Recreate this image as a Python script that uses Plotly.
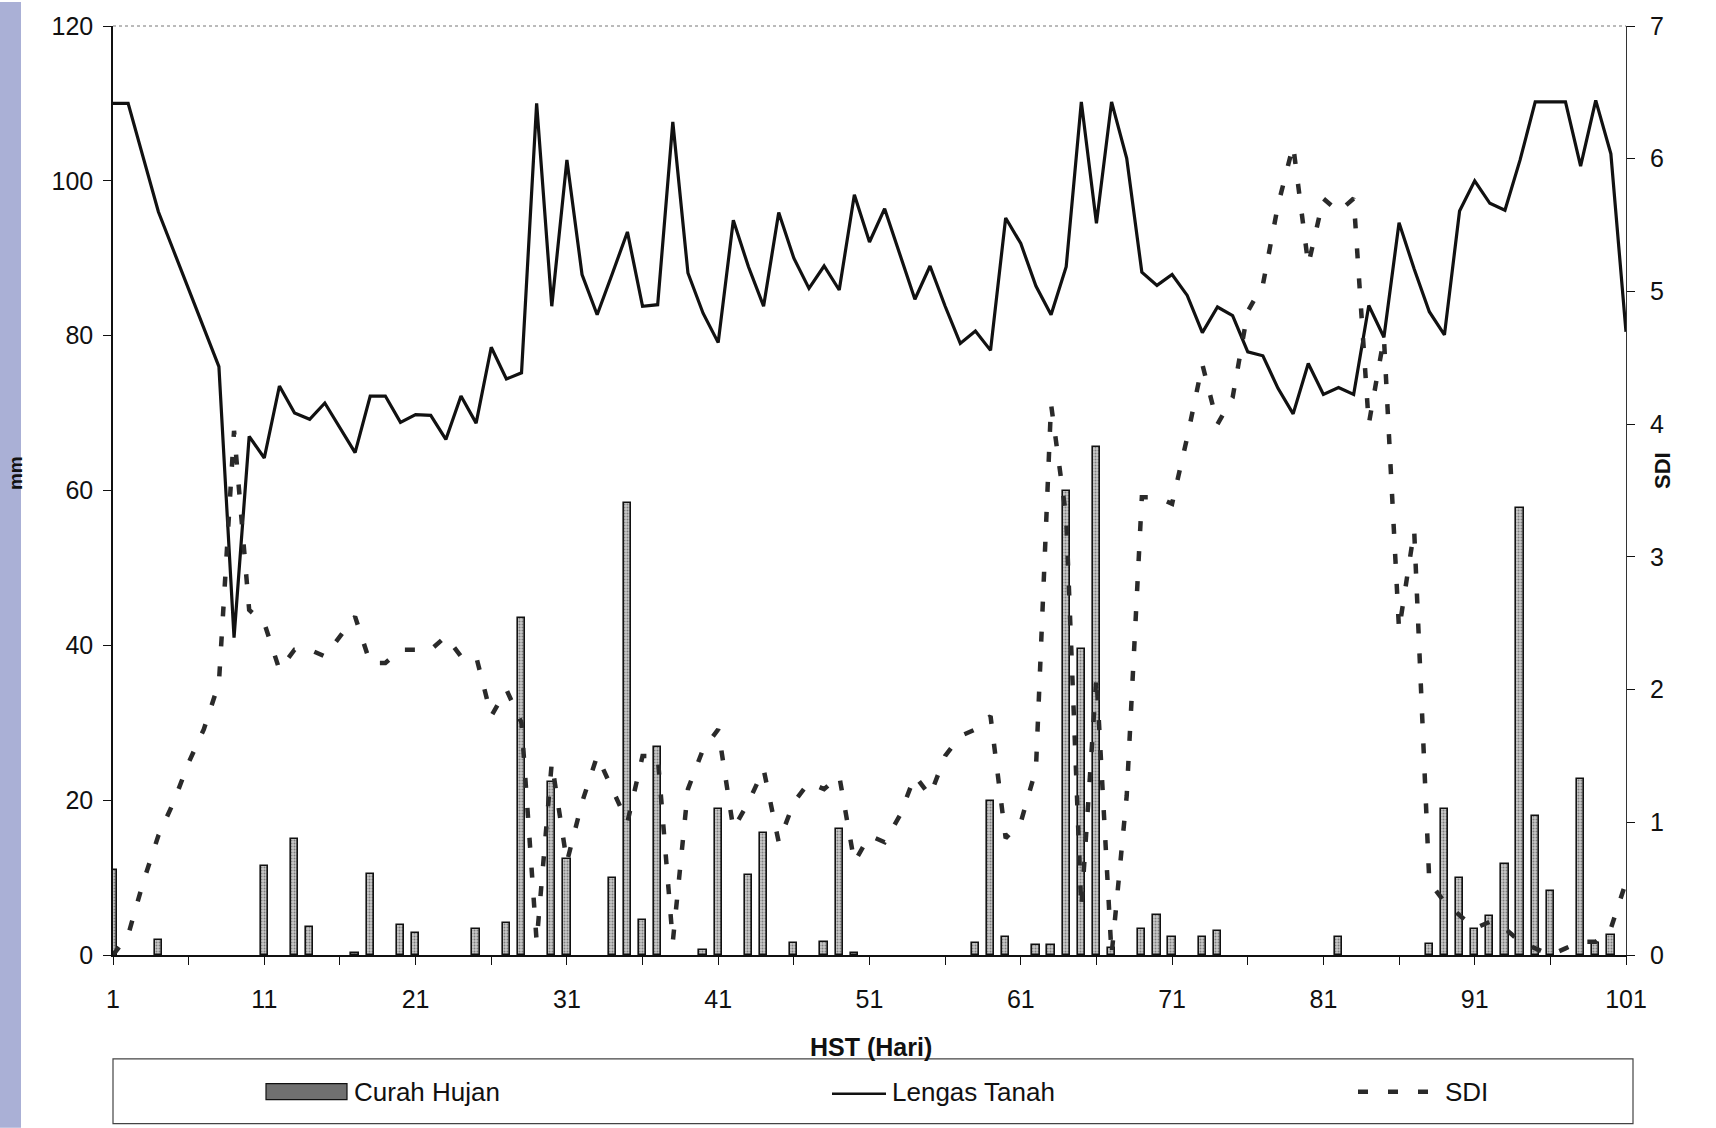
import plotly.graph_objects as go

# ---------------- data ----------------
days = list(range(1, 102))

lengas_tanah = [
    110, 110, 103, 96, 91, 86, 81, 76, 41, 67,
    64.2, 73.5, 70, 69.2, 71.3, 68, 64.9, 72.2, 72.2, 68.8,
    69.8, 69.7, 66.6, 72.2, 68.7, 78.5, 74.4, 75.2, 110, 83.8,
    102.7, 87.9, 82.7, 88, 93.4, 83.8, 84.0, 107.6, 88.1, 82.9,
    79.1, 94.9, 88.9, 83.8, 95.9, 90.0, 86.1, 89.0, 85.9, 98.2,
    92.1, 96.4, 90.6, 84.7, 89.0, 83.8, 79.0, 80.6, 78.1, 95.2,
    91.9, 86.4, 82.7, 88.9, 110.2, 94.5, 110.2, 102.9, 88.2, 86.5,
    87.9, 85.2, 80.4, 83.7, 82.6, 77.9, 77.4, 73.2, 69.9, 76.4,
    72.4, 73.3, 72.4, 83.9, 79.8, 94.6, 88.6, 83.1, 80.1, 96.1,
    100.0, 97.1, 96.2, 102.7, 110.2, 110.2, 110.2, 101.9, 110.4, 103.5,
    80.5,
]

sdi = [
    0.0, 0.15, 0.55, 0.9, 1.15, 1.45, 1.7, 2.05, 3.95, 2.6,
    2.5, 2.15, 2.3, 2.3, 2.25, 2.4, 2.55, 2.2, 2.2, 2.3,
    2.3, 2.3, 2.4, 2.25, 2.25, 1.8, 2.0, 1.75, 0.1, 1.45,
    0.7, 1.15, 1.5, 1.25, 1.0, 1.5, 1.5, 0.1, 1.25, 1.55,
    1.7, 0.95, 1.15, 1.4, 0.85, 1.15, 1.3, 1.25, 1.35, 0.7,
    0.9, 0.85, 1.05, 1.35, 1.2, 1.5, 1.65, 1.7, 1.8, 0.88,
    1.0, 1.4, 4.15, 3.3, 0.35, 2.1, 0.0, 1.2, 3.45, 3.45,
    3.4, 3.9, 4.45, 4.0, 4.2, 4.85, 5.05, 5.65, 6.1, 5.2,
    5.7, 5.6, 5.7, 4.0, 4.65, 2.45, 3.2, 0.55, 0.4, 0.3,
    0.2, 0.25, 0.2, 0.1, 0.05, 0.0, 0.05, 0.1, 0.1, 0.2,
    0.55,
]

rain_days = [1, 4, 11, 13, 14, 17, 18, 20, 21, 25, 27, 28, 30, 31, 34, 35, 36, 37,
             40, 41, 43, 44, 46, 48, 49, 50, 58, 59, 60, 62, 63, 64, 65, 66, 67,
             69, 70, 71, 73, 74, 82, 88, 89, 90, 91, 92, 93, 94, 95, 96, 98, 99, 100]
rain_mm = [11.0, 1.9, 11.5, 15.0, 3.6, 0.3, 10.5, 3.9, 2.8, 3.3, 4.1, 43.5, 22.4, 12.4,
           10.0, 58.4, 4.5, 26.9, 0.7, 18.8, 10.3, 15.8, 1.5, 1.7, 16.3, 0.3, 1.5, 19.9,
           2.3, 1.3, 1.3, 60.0, 39.5, 65.6, 0.9, 3.3, 5.2, 2.3, 2.3, 3.1, 2.3, 1.4, 18.9,
           9.9, 3.4, 5.1, 11.7, 57.8, 18.0, 8.3, 22.7, 1.6, 2.6]

x_tickvals = list(range(1, 102, 5))
x_ticktext = [str(v) if (v - 1) % 10 == 0 else "" for v in x_tickvals]
y_left_ticks = [0, 20, 40, 60, 80, 100, 120]
y_right_ticks = [0, 1, 2, 3, 4, 5, 6, 7]

legend_labels = ["Curah Hujan", "Lengas Tanah", "SDI"]

# ---------------- layout geometry ----------------
W, H = 1716, 1128
ML, MR, MT, MB = 113, 90, 24, 173
PW, PH = W - ML - MR, H - MT - MB
FONT = "Arial, Liberation Sans, sans-serif"


def px_x(px):
    return (px - ML) / PW


def px_y(py):
    return (H - MB - py) / PH


fig = go.Figure()

fig.add_trace(go.Bar(
    x=rain_days, y=rain_mm, name=legend_labels[0], width=0.48,
    marker=dict(color="#b4b4b4", line=dict(color="#111111", width=1.6),
                pattern=dict(shape=".", fgcolor="#333333", bgcolor="#c8c8c8", size=3, solidity=0.35)),
    showlegend=False,
))
fig.add_trace(go.Scatter(
    x=days, y=lengas_tanah, name=legend_labels[1], mode="lines",
    line=dict(color="#111111", width=3.2), showlegend=False,
))
fig.add_trace(go.Scatter(
    x=days, y=sdi, name=legend_labels[2], mode="lines", yaxis="y2",
    line=dict(color="#2a2a2a", width=4.5, dash="10px,20px"), showlegend=False,
))

axis_font = dict(family=FONT, size=25, color="#111111")

fig.update_layout(
    width=W, height=H,
    margin=dict(l=ML, r=MR, t=MT, b=MB),
    paper_bgcolor="white", plot_bgcolor="white",
    font=dict(family=FONT, color="#111111"),
    bargap=0,
    xaxis=dict(
        range=[1, 101], tickmode="array", tickvals=x_tickvals, ticktext=x_ticktext,
        showline=True, linecolor="#111111", linewidth=1.5, mirror=False,
        ticks="outside", ticklen=8, tickcolor="#111111", tickwidth=1.2,
        tickfont=axis_font, showgrid=False, zeroline=False, ticklabelstandoff=13,
    ),
    yaxis=dict(
        range=[0, 120], tickmode="array", tickvals=y_left_ticks,
        showline=True, linecolor="#111111", linewidth=1.5,
        ticks="outside", ticklen=8, tickcolor="#111111", tickwidth=1.2,
        tickfont=axis_font, showgrid=False, zeroline=False, ticklabelstandoff=5,
    ),
    yaxis2=dict(
        range=[0, 7], tickmode="array", tickvals=y_right_ticks, overlaying="y", side="right",
        showline=True, linecolor="#333333", linewidth=1.2,
        ticks="outside", ticklen=8, tickcolor="#111111", tickwidth=1.2,
        tickfont=axis_font, showgrid=False, zeroline=False, ticklabelstandoff=10,
    ),
)

shapes = []
annotations = []

# top border (faint dotted)
shapes.append(dict(type="line", xref="paper", yref="paper", x0=0, x1=1, y0=1, y1=1,
                   line=dict(color="#777777", width=1, dash="dot")))

# scanned watermark strip on the left edge
shapes.append(dict(type="rect", xref="paper", yref="paper",
                   x0=px_x(0), x1=px_x(21), y0=px_y(H), y1=px_y(0),
                   line=dict(width=0), fillcolor="#aab0d6", layer="below"))

# axis titles
annotations.append(dict(text="<b>HST (Hari)</b>", xref="paper", yref="paper",
                        x=px_x(871), y=px_y(1047), xanchor="center", yanchor="middle",
                        showarrow=False, font=dict(family=FONT, size=25, color="#111111")))
annotations.append(dict(text="<b>mm</b>", xref="paper", yref="paper",
                        x=px_x(15), y=px_y(472), xanchor="center", yanchor="middle",
                        showarrow=False, textangle=-90,
                        font=dict(family=FONT, size=19, color="#111111")))
annotations.append(dict(text="<b>SDI</b>", xref="paper", yref="paper",
                        x=px_x(1662), y=px_y(470), xanchor="center", yanchor="middle",
                        showarrow=False, textangle=-90,
                        font=dict(family=FONT, size=22, color="#111111")))

# legend box
shapes.append(dict(type="rect", xref="paper", yref="paper",
                   x0=px_x(113), x1=px_x(1633), y0=px_y(1124), y1=px_y(1059),
                   line=dict(color="#444444", width=1.2), fillcolor="rgba(0,0,0,0)"))
ly = 1092
# bar swatch
shapes.append(dict(type="rect", xref="paper", yref="paper",
                   x0=px_x(266), x1=px_x(347), y0=px_y(ly + 8), y1=px_y(ly - 8),
                   line=dict(color="#111111", width=1.2), fillcolor="#707070"))
# line swatch
shapes.append(dict(type="line", xref="paper", yref="paper",
                   x0=px_x(832), x1=px_x(886), y0=px_y(ly + 2), y1=px_y(ly + 2),
                   line=dict(color="#111111", width=2.5)))
# dashed swatch
shapes.append(dict(type="line", xref="paper", yref="paper",
                   x0=px_x(1358), x1=px_x(1434), y0=px_y(ly), y1=px_y(ly),
                   line=dict(color="#2a2a2a", width=4.5, dash="10px,20px")))

leg_font = dict(family=FONT, size=26, color="#111111")
for label, xpx in zip(legend_labels, [352, 890, 1443]):
    annotations.append(dict(text=label, xref="paper", yref="paper", x=px_x(xpx), y=px_y(ly),
                            xanchor="left", yanchor="middle", showarrow=False, font=leg_font))

fig.update_layout(shapes=shapes, annotations=annotations)

fig.write_html("out.html")
